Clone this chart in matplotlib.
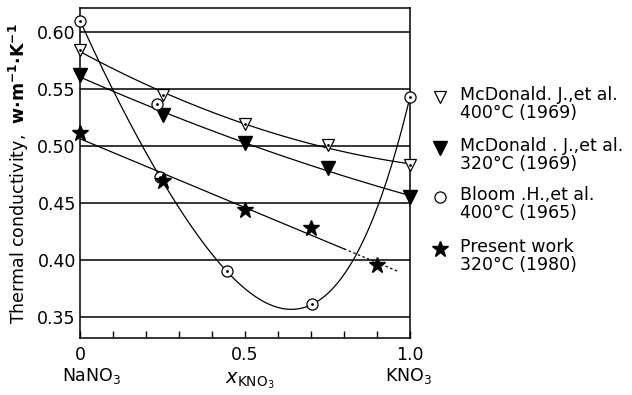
import numpy as np
import matplotlib
matplotlib.use("Agg")
import matplotlib.pyplot as plt

plt.rcParams['font.family'] = ['DejaVu Sans']
plt.rcParams['mathtext.fontset'] = 'dejavusans'

# McDonald J. et al., 400 C (1969) - open triangles
mc400_x = [0.0, 0.25, 0.5, 0.75, 1.0]
mc400_y = [0.584, 0.545, 0.519, 0.501, 0.483]

# McDonald J. et al., 320 C (1969) - filled triangles
mc320_x = [0.0, 0.25, 0.5, 0.75, 1.0]
mc320_y = [0.562, 0.527, 0.503, 0.481, 0.455]

# Bloom H. et al., 400 C (1965) - dotted circles
bloom_x = [0.0, 0.233, 0.242, 0.445, 0.703, 1.0]
bloom_y = [0.610, 0.537, 0.473, 0.390, 0.361, 0.543]
bloom_curve_idx = [0, 2, 3, 4, 5]   # points the drawn curve goes through

# Present work, 320 C (1980) - stars
pw_x = [0.0, 0.25, 0.5, 0.7, 0.9]
pw_y = [0.511, 0.469, 0.444, 0.428, 0.396]

legend_labels = ["McDonald. J.,et al.\n400\u00b0C (1969)",
                 "McDonald . J.,et al.\n320\u00b0C (1969)",
                 "Bloom .H.,et al.\n400\u00b0C (1965)",
                 "Present work\n320\u00b0C (1980)"]

fig = plt.figure(figsize=(6.32, 3.95), dpi=100)
ax = fig.add_axes([80 / 632, 1 - 338 / 395, 330 / 632, 330 / 395])

# grid lines
for g in [0.35, 0.40, 0.45, 0.50, 0.55, 0.60]:
    ax.axhline(g, color='black', lw=1.1, zorder=1)

# fitted curves
xs = np.linspace(0, 1, 200)
c = np.polyfit(mc400_x, mc400_y, 2)
ax.plot(xs, np.polyval(c, xs), color='black', lw=0.9, zorder=2)
c = np.polyfit(mc320_x, mc320_y, 2)
ax.plot(xs, np.polyval(c, xs), color='black', lw=0.9, zorder=2)

bx = [bloom_x[i] for i in bloom_curve_idx]
by = [bloom_y[i] for i in bloom_curve_idx]
c = np.polyfit(bx, by, 4)
ax.plot(xs, np.polyval(c, xs), color='black', lw=0.9, zorder=2)

c = np.polyfit(pw_x, pw_y, 1)
xs1 = np.linspace(0, 0.8, 100)
xs2 = np.linspace(0.8, 0.967, 30)
ax.plot(xs1, np.polyval(c, xs1), color='black', lw=0.9, zorder=2)
ax.plot(xs2, np.polyval(c, xs2), color='black', lw=0.9, ls=(0, (2, 2)), zorder=2)

# markers
ax.plot(mc400_x, mc400_y, 'v', ms=9, mfc='white', mec='black', mew=0.9,
        ls='none', zorder=4, clip_on=False)
ax.plot(mc400_x, mc400_y, '.', ms=2, color='black', ls='none', zorder=5, clip_on=False)
ax.plot(mc320_x, mc320_y, 'v', ms=9.5, mfc='black', mec='black',
        ls='none', zorder=4, clip_on=False)
ax.plot(bloom_x, bloom_y, 'o', ms=8, mfc='white', mec='black', mew=0.9,
        ls='none', zorder=4, clip_on=False)
ax.plot(bloom_x, bloom_y, '.', ms=2, color='black', ls='none', zorder=5, clip_on=False)
ax.plot(pw_x, pw_y, '*', ms=12, mfc='black', mec='black',
        ls='none', zorder=4, clip_on=False)

ax.set_xlim(0, 1.0)
ax.set_ylim(0.3316, 0.621)
ax.set_yticks([0.35, 0.40, 0.45, 0.50, 0.55, 0.60])
ax.set_yticklabels(["0.35", "0.40", "0.45", "0.50", "0.55", "0.60"], fontsize=12.5)
ax.set_xticks([0, 0.5, 1.0])
ax.set_xticklabels(["0", "0.5", "1.0"], fontsize=12.5)
ax.set_xticks(np.arange(0.1, 1.0, 0.1), minor=True)
ax.tick_params(axis='y', length=0, pad=3)
ax.tick_params(axis='x', which='both', direction='in', length=5, width=1, pad=6)
for s in ax.spines.values():
    s.set_linewidth(1.1)

fig.text(92 / 632, 1 - 376 / 395, "NaNO$_3$", fontsize=12.5, ha='center', va='center')
fig.text(408 / 632, 1 - 376 / 395, "KNO$_3$", fontsize=12.5, ha='center', va='center')
fig.text(250 / 632, 1 - 381 / 395, r"$\mathit{x}_{\mathrm{KNO_3}}$", fontsize=14,
         ha='center', va='center')

fig.text(19 / 632, 1 - 174 / 395,
         r"Thermal conductivity,  $\mathbf{w{\cdot}m^{-1}{\cdot}K^{-1}}$",
         fontsize=12.5, rotation=90, ha='center', va='center')

# legend drawn by hand
ys = [97, 148, 197, 249]
styles = [dict(marker='v', ms=9, mfc='white', mec='black', mew=0.9),
          dict(marker='v', ms=9.5, mfc='black', mec='black'),
          dict(marker='o', ms=8, mfc='white', mec='black', mew=0.9),
          dict(marker='*', ms=12, mfc='black', mec='black')]
for y, st, lab in zip(ys, styles, legend_labels):
    fy = 1 - y / 395
    fig.lines.append(plt.Line2D([440 / 632], [fy], transform=fig.transFigure,
                                ls='none', **st))
    fig.text(460 / 632, fy + 11 / 395, lab, fontsize=12.5, ha='left', va='top',
             linespacing=1.0)

fig.savefig("out.png", dpi=100)
